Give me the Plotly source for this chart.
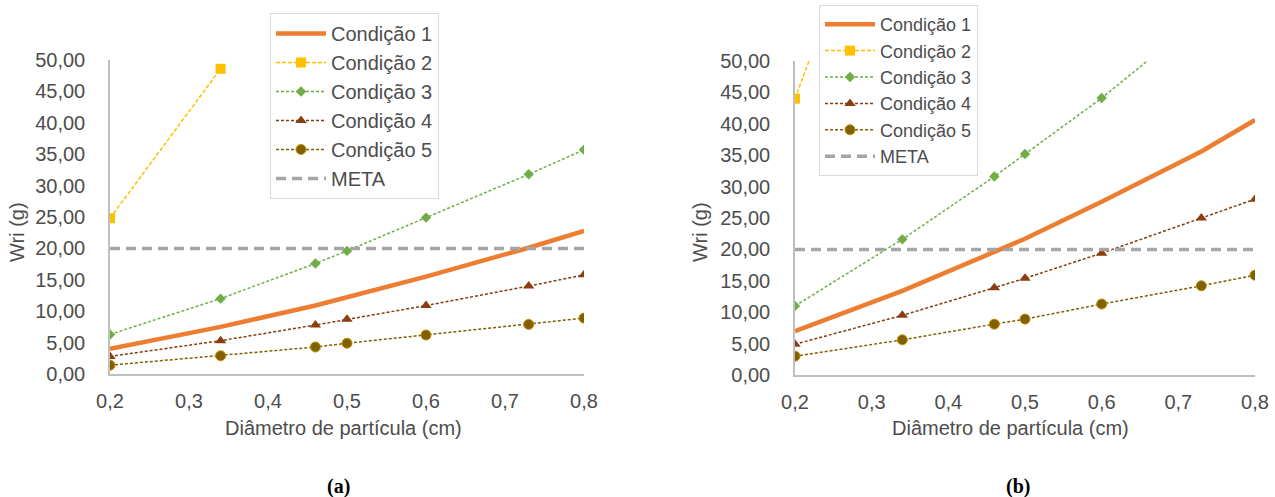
import plotly.graph_objects as go

# ---------------- data ----------------
x_vals = [0.2, 0.34, 0.46, 0.5, 0.6, 0.73, 0.8]
x_c2 = [0.2, 0.34]
x_ticks = [0.2, 0.3, 0.4, 0.5, 0.6, 0.7, 0.8]

cond1_a = [4.0, 7.5, 10.9, 12.2, 15.5, 20.1, 22.8]
cond2_a = [24.8, 48.6]
cond3_a = [6.3, 12.0, 17.6, 19.6, 24.9, 31.8, 35.7]
cond4_a = [2.8, 5.3, 7.8, 8.7, 10.9, 14.0, 15.8]
cond5_a = [1.4, 2.9, 4.3, 4.9, 6.2, 7.9, 8.9]

cond1_b = [7.0, 13.4, 19.6, 21.7, 27.6, 35.6, 40.6]
cond2_b = [44.0, 90.0]
cond3_b = [11.0, 21.6, 31.6, 35.2, 44.1, 57.0, 64.0]
cond4_b = [4.9, 9.5, 13.9, 15.4, 19.4, 25.0, 28.0]
cond5_b = [3.0, 5.6, 8.1, 8.9, 11.3, 14.2, 15.9]

meta = [20, 20, 20, 20, 20, 20, 20]

names = ["Condição 1", "Condição 2", "Condição 3", "Condição 4", "Condição 5", "META"]
x_title = "Diâmetro de partícula (cm)"
y_title = "Wri (g)"
captions = ["(a)", "(b)"]

# ---------------- styles ----------------
FONT = "Liberation Sans, Arial, sans-serif"
TXT = "#4d4d4d"
FS = 20
W, H = 1275, 497

fig = go.Figure()


def add_panel(fig, xa, ya, legend, c1, c2, c3, c4, c5):
    common = dict(xaxis=xa, yaxis=ya, legend=legend)
    fig.add_trace(go.Scatter(x=x_vals, y=c1, name=names[0], mode="lines",
                             line=dict(color="#ED7D31", width=4.5),
                             legendgroup=legend + "1", **common))
    fig.add_trace(go.Scatter(x=x_c2, y=c2, name=names[1], mode="lines+markers",
                             line=dict(color="#FFC000", width=1.5, dash="4px,2px"),
                             marker=dict(symbol="square", size=10, color="#FFC000"),
                             legendgroup=legend + "2", **common))
    fig.add_trace(go.Scatter(x=x_vals, y=c3, name=names[2], mode="lines+markers",
                             line=dict(color="#70AD47", width=1.5, dash="3px,2px"),
                             marker=dict(symbol="diamond", size=8, color="#70AD47"),
                             legendgroup=legend + "3", **common))
    fig.add_trace(go.Scatter(x=x_vals, y=c4, name=names[3], mode="lines+markers",
                             line=dict(color="#843C0C", width=1.5, dash="3px,2px"),
                             marker=dict(symbol="triangle-up", size=10, color="#8B3E10"),
                             legendgroup=legend + "4", **common))
    fig.add_trace(go.Scatter(x=x_vals, y=c5, name=names[4], mode="lines+markers",
                             line=dict(color="#7F6000", width=1.5, dash="3px,2px"),
                             marker=dict(symbol="circle", size=10, color="#806000",
                                         line=dict(color="#BF9000", width=1)),
                             legendgroup=legend + "5", **common))
    fig.add_trace(go.Scatter(x=x_vals, y=meta, name=names[5], mode="lines",
                             line=dict(color="#A5A5A5", width=3.5, dash="10px,6px"),
                             legendgroup=legend + "6", **common))


add_panel(fig, "x", "y", "legend", cond1_a, cond2_a, cond3_a, cond4_a, cond5_a)
add_panel(fig, "x2", "y2", "legend2", cond1_b, cond2_b, cond3_b, cond4_b, cond5_b)

xaxis_common = dict(range=[0.2, 0.8], tickvals=x_ticks, tickformat=".1f",
                    showgrid=False, zeroline=False, showline=True,
                    linecolor="#BFBFBF", linewidth=1.5, ticks="",
                    ticklabelstandoff=8, automargin=False,
                    tickfont=dict(family=FONT, size=FS, color=TXT))
yaxis_common = dict(range=[0, 50], dtick=5, tick0=0, tickformat=".2f",
                    showgrid=False, zeroline=False, showline=True,
                    linecolor="#BFBFBF", linewidth=1.5, ticks="",
                    ticklabelstandoff=19, automargin=False,
                    tickfont=dict(family=FONT, size=FS, color=TXT))

legend_common = dict(bgcolor="white", bordercolor="#D9D9D9", borderwidth=1,
                     xanchor="left", yanchor="top", itemwidth=50,
                     traceorder="normal", itemclick=False)

fig.update_layout(
    width=W, height=H,
    margin=dict(l=0, r=0, t=0, b=0, autoexpand=False),
    paper_bgcolor="white", plot_bgcolor="white",
    separators=",.",
    showlegend=True,
    xaxis=dict(domain=[110 / W, 584 / W], anchor="y", **xaxis_common),
    yaxis=dict(domain=[1 - 374 / H, 1 - 60 / H], anchor="x", **yaxis_common),
    xaxis2=dict(domain=[795 / W, 1255 / W], anchor="y2", **xaxis_common),
    yaxis2=dict(domain=[1 - 375 / H, 1 - 61 / H], anchor="x2", **yaxis_common),
    legend=dict(x=270 / W, y=1 - 13 / H,
                font=dict(family=FONT, size=20, color=TXT), **legend_common),
    legend2=dict(x=819 / W, y=1 - 5 / H,
                 font=dict(family=FONT, size=18, color=TXT), **legend_common),
)

# axis titles
for xc, yc in [(17, 232), (700, 232)]:
    fig.add_annotation(x=xc / W, y=1 - yc / H, xref="paper", yref="paper",
                       xanchor="center", yanchor="middle",
                       text=y_title, showarrow=False, textangle=-90,
                       font=dict(family=FONT, size=FS, color=TXT))
for xc in [344, 1010]:
    fig.add_annotation(x=xc / W, y=1 - 428 / H, xref="paper", yref="paper",
                       xanchor="center", yanchor="middle",
                       text=x_title, showarrow=False,
                       font=dict(family=FONT, size=FS, color=TXT))
# captions
for xc, cap in zip([338, 1018], captions):
    fig.add_annotation(x=xc / W, y=1 - 486 / H, xref="paper", yref="paper",
                       xanchor="center", yanchor="middle",
                       text="<b>" + cap + "</b>", showarrow=False,
                       font=dict(family="Liberation Serif, Times New Roman, serif",
                                 size=20, color="black"))

fig.write_html("out.html")
